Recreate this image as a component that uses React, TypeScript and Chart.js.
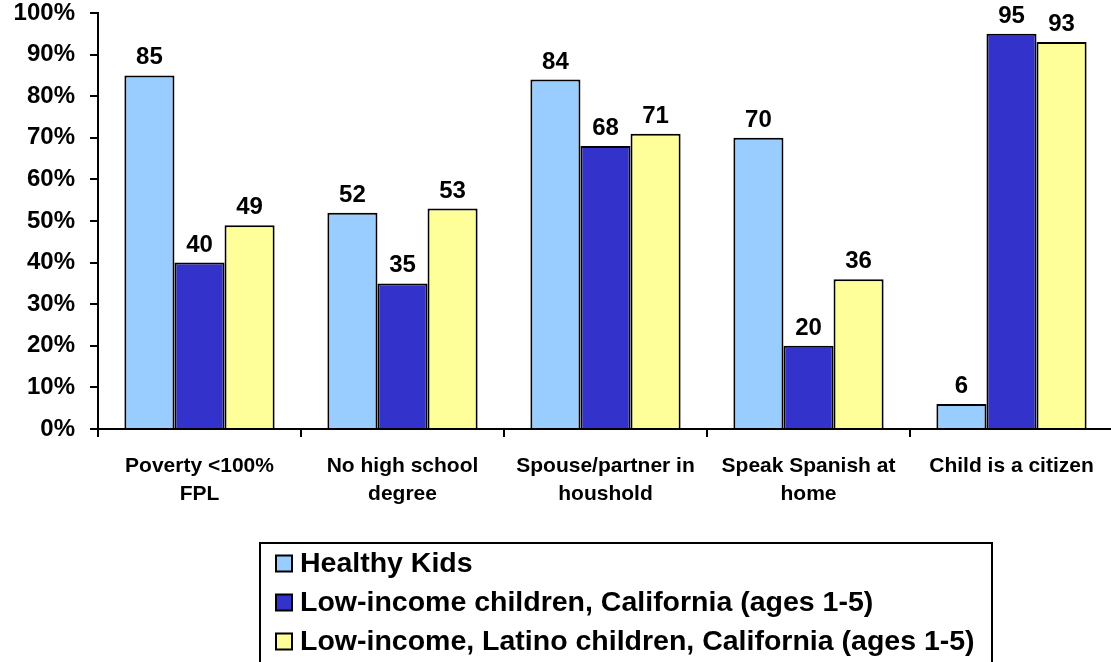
import React, { useEffect, useRef } from "react";
import { Chart, registerables } from "chart.js";

Chart.register(...registerables);

const categories: string[][] = [
  ["Poverty <100%", "FPL"],
  ["No high school", "degree"],
  ["Spouse/partner in", "houshold"],
  ["Speak Spanish at", "home"],
  ["Child is a citizen"],
];

const seriesNames = [
  "Healthy Kids",
  "Low-income children, California (ages 1-5)",
  "Low-income, Latino children, California (ages 1-5)",
];

const healthyKids = [85, 52, 84, 70, 6];
const lowIncomeCA = [40, 35, 68, 20, 95];
const lowIncomeLatino = [49, 53, 71, 36, 93];

const seriesColors = ["#99CCFF", "#3333CC", "#FFFF99"];

const yTicks = [0, 10, 20, 30, 40, 50, 60, 70, 80, 90, 100];

const FONT = "'Liberation Sans', Arial, Helvetica, sans-serif";

// Value labels centred above each bar
const valueLabels = {
  id: "valueLabels",
  afterDatasetsDraw(chart: any) {
    const ctx = chart.ctx;
    ctx.save();
    ctx.font = `bold 24px ${FONT}`;
    ctx.fillStyle = "#000";
    ctx.textAlign = "center";
    ctx.textBaseline = "alphabetic";
    chart.data.datasets.forEach((ds: any, di: number) => {
      const meta = chart.getDatasetMeta(di);
      meta.data.forEach((bar: any, i: number) => {
        ctx.fillText(String(ds.data[i]), bar.x, bar.y - 11);
      });
    });
    ctx.restore();
  },
};

// Boxed legend below the plot
const boxLegend = {
  id: "boxLegend",
  afterDraw(chart: any) {
    const ctx = chart.ctx;
    ctx.save();
    ctx.lineWidth = 2;
    ctx.strokeStyle = "#000";
    ctx.strokeRect(260, 543, 732, 140);
    ctx.font = `bold 28.5px ${FONT}`;
    ctx.textBaseline = "middle";
    ctx.textAlign = "left";
    chart.data.datasets.forEach((ds: any, i: number) => {
      const cy = 563.5 + i * 39;
      ctx.fillStyle = ds.backgroundColor;
      ctx.fillRect(276, cy - 8, 16, 16);
      ctx.lineWidth = 2;
      ctx.strokeRect(276, cy - 8, 16, 16);
      ctx.fillStyle = "#000";
      ctx.fillText(ds.label, 300, cy + 1);
    });
    ctx.restore();
  },
};

export default function App() {
  const canvasRef = useRef<HTMLCanvasElement | null>(null);

  useEffect(() => {
    if (!canvasRef.current) return;
    const seriesData = [healthyKids, lowIncomeCA, lowIncomeLatino];
    const chart = new Chart(canvasRef.current, {
      type: "bar",
      data: {
        labels: categories,
        datasets: seriesNames.map((name, i) => ({
          label: name,
          data: seriesData[i],
          backgroundColor: seriesColors[i],
          borderColor: "#000",
          borderWidth: 2,
          borderSkipped: "bottom",
          categoryPercentage: 0.74,
          barPercentage: 1,
        })),
      },
      options: {
        animation: false,
        responsive: false,
        devicePixelRatio: 1,
        layout: { padding: { top: 13, right: 3, bottom: 0, left: 0 } },
        plugins: {
          legend: { display: false },
          tooltip: { enabled: false },
        },
        scales: {
          x: {
            afterFit: (scale: any) => {
              scale.height = 233;
              scale.paddingLeft = 0;
              scale.paddingRight = 0;
            },
            grid: {
              offset: true,
              drawOnChartArea: false,
              drawTicks: true,
              tickLength: 8,
              color: "#000",
              lineWidth: 2,
            },
            border: { display: true, color: "#000", width: 2 },
            ticks: {
              color: "#000",
              padding: 15,
              maxRotation: 0,
              autoSkip: false,
              font: { family: FONT, size: 21, weight: "bold", lineHeight: 1.33 },
            },
          },
          y: {
            min: 0,
            max: 100,
            afterFit: (scale: any) => {
              scale.width = 98;
              scale.paddingTop = 0;
              scale.paddingBottom = 0;
            },
            afterBuildTicks: (scale: any) => {
              scale.ticks = yTicks.map((v) => ({ value: v }));
            },
            grid: {
              drawOnChartArea: false,
              drawTicks: true,
              tickLength: 8,
              color: "#000",
              lineWidth: 2,
            },
            border: { display: true, color: "#000", width: 2 },
            ticks: {
              color: "#000",
              padding: 15,
              callback: (v: any) => `${v}%`,
              font: { family: FONT, size: 24, weight: "bold" },
            },
          },
        },
      },
      plugins: [valueLabels, boxLegend],
    });
    return () => chart.destroy();
  }, []);

  return (
    <div
      style={{
        position: "fixed",
        left: 0,
        top: 0,
        width: 1111,
        height: 662,
        overflow: "hidden",
        background: "#fff",
      }}
    >
      <canvas
        ref={canvasRef}
        width={1116}
        height={662}
        style={{ width: 1116, height: 662, display: "block" }}
      />
    </div>
  );
}
